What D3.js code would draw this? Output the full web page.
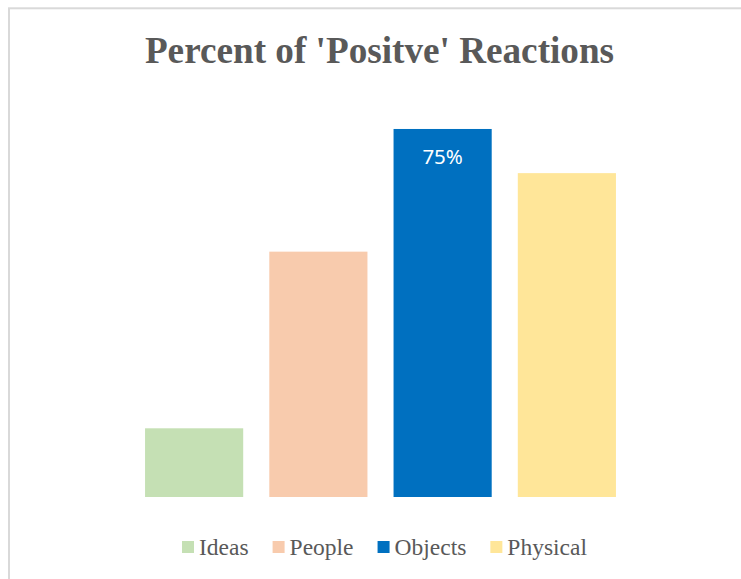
<!DOCTYPE html>
<html>
<head>
<meta charset="utf-8">
<script src="https://cdn.jsdelivr.net/npm/d3@7"></script>
<style>
    body { margin: 0; background: #fff; }
    svg { display: block; }
</style>
</head>
<body>
<svg id="chart" width="741" height="579"></svg>
<script>
// data (percent of positive reactions)
const categories = ["Ideas", "People", "Objects", "Physical"];
const values = [14, 50, 75, 66];
const colors = ["#C5E0B4", "#F8CBAD", "#0070C0", "#FFE699"];
const labeled = ["Objects"];   // only this bar carries a data label

const width = 741, height = 579;
const svg = d3.select("#chart");

// chart frame (light grey border, runs off right/bottom edge)
svg.append("rect")
    .attr("x", 9)
    .attr("y", 8.3)
    .attr("width", width + 20)
    .attr("height", height + 20)
    .attr("fill", "#fff")
    .attr("stroke", "#d9d9d9")
    .attr("stroke-width", 2);

// title
svg.append("text")
    .attr("x", 379.5)
    .attr("y", 63)
    .attr("text-anchor", "middle")
    .attr("font-family", "'Liberation Serif', 'Times New Roman', serif")
    .attr("font-weight", "bold")
    .attr("font-size", 37.2)
    .attr("fill", "#595959")
    .text("Percent of 'Positve' Reactions");

const xScale = d3.scaleBand()
    .domain(categories)
    .range([132, 629])
    .paddingInner(0.21)
    .paddingOuter(0.105);

const yScale = d3.scaleLinear()
    .domain([0, 80])
    .range([497, 497 - 80 * 4.907]);

const rows = categories.map((c, i) => ({ cat: c, value: values[i], color: colors[i] }));

// bars
svg.selectAll("rect.bar")
    .data(rows)
    .enter().append("rect")
    .attr("class", "bar")
    .attr("x", d => xScale(d.cat))
    .attr("y", d => yScale(d.value))
    .attr("width", xScale.bandwidth())
    .attr("height", d => yScale(0) - yScale(d.value))
    .attr("fill", d => d.color);

// data label inside top of bar
svg.selectAll("text.label")
    .data(rows.filter(d => labeled.includes(d.cat)))
    .enter().append("text")
    .attr("class", "label")
    .attr("x", d => xScale(d.cat) + xScale.bandwidth() / 2)
    .attr("y", d => yScale(d.value) + 35)
    .attr("text-anchor", "middle")
    .attr("font-family", "'Noto Sans', 'Open Sans', sans-serif")
    .attr("font-size", 20.5)
    .attr("fill", "#fff")
    .text(d => d.value + "%");

// legend
const legend = svg.append("g");
const items = legend.selectAll("g")
    .data(rows)
    .enter().append("g");

items.append("rect")
    .attr("width", 12)
    .attr("height", 12)
    .attr("y", 541)
    .attr("fill", d => d.color);

items.append("text")
    .attr("x", 17)
    .attr("y", 555)
    .attr("font-family", "'Liberation Serif', 'Times New Roman', serif")
    .attr("font-size", 23.5)
    .attr("fill", "#595959")
    .text(d => d.cat);

// lay legend items out side by side, centred
let offset = 0;
const gap = 24;
items.each(function () {
    const w = 17 + d3.select(this).select("text").node().getComputedTextLength();
    d3.select(this).attr("transform", `translate(${offset},0)`);
    offset += w + gap;
});
const total = offset - gap;
legend.attr("transform", `translate(${384.5 - total / 2},0)`);
</script>
</body>
</html>
